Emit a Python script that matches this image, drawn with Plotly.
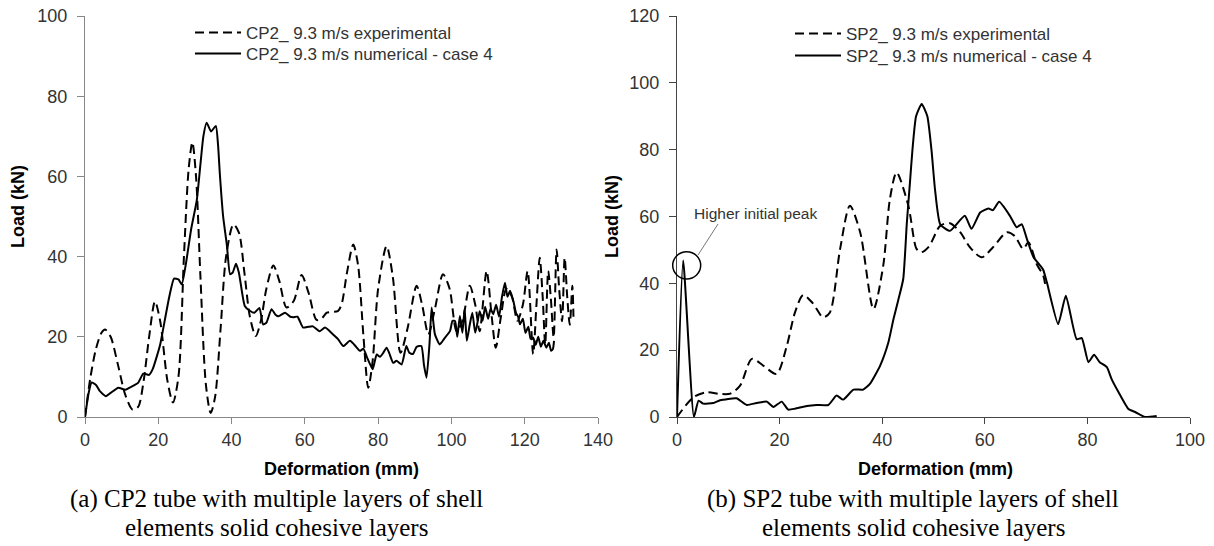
import plotly.graph_objects as go

# ---- (a) CP2 data ----
cp2_exp_x = [0, 1.5, 3, 4.5, 5.5, 7, 9, 11, 13, 14.5, 16, 17.5, 19.1, 20.5, 22.5, 24, 25.5, 27, 28.3, 29.3,
             30.3, 31.5, 33, 34.3, 35.5, 37, 38.5, 40.5, 42, 43.5, 45, 46.6, 48, 49.5, 51.4, 53, 55, 57, 59.1,
             61, 63.2, 64.5, 66, 67.5, 69, 70, 71.5, 73.2, 74.5, 76, 77.3, 78.5, 80, 82.3, 84, 86.1, 88, 90.5,
             92, 93.7, 95.5, 97.7, 99.5, 101.4, 103, 105, 106.5, 107.7, 109.6, 111, 112.1, 113.5, 115, 116.5,
             118, 119.5, 120.8, 122.3, 123.2, 124.1, 124.9, 125.6, 126.4, 127.1, 127.9, 128.7, 129.4, 130.2,
             130.9, 131.6, 132.3, 133, 133.3]
cp2_exp_y = [0, 10, 17, 21, 21.8, 20, 13, 5.5, 1.8, 2.5, 9, 20, 28.8, 24, 9, 3.6, 10, 40, 62, 68.5,
             60, 35, 8, 1, 5, 22, 40, 48, 46, 36, 25, 20.2, 24, 32, 37.8, 34, 27.3, 29, 35.4,
             31, 24.2, 24.5, 26, 26.2, 26.4, 28, 36, 43, 38, 20, 7.3, 14, 32, 42.6, 35, 16, 22, 32.7,
             28, 20.6, 27, 35.6, 32, 21.4, 24, 32.7, 28, 21.4, 36.4, 25, 17.3, 25, 32, 30,
             24, 28, 36.4, 15.7, 28, 39.7, 30, 18.1, 36.4, 30, 19.8, 41.8, 32, 23.9,
             39.7, 30, 23, 32.7, 25]

cp2_num_x = [0, 1, 1.8, 3, 4, 5.7, 7, 9.1, 11, 13.2, 14.5, 15.9, 17.5, 18.5, 19.5, 20.5, 21.4, 23, 24.3,
             25.5, 26.4, 27.5, 29, 30.5, 31.5, 32.3, 33.2, 34.4, 35.7, 36.3, 36.8, 37.7, 38.7, 39.6, 40.3,
             41.2, 42, 43.6, 45, 46.2, 47.6, 48.6, 49.5, 50.9, 52, 52.8, 54.6, 56, 56.9, 58, 59.5, 61, 62.2,
             64, 65.5, 67.7, 69, 70.5, 72.3, 74, 75, 76, 77, 78.5, 79.6, 80.5, 81.4, 82.3, 83, 84.1, 85,
             86.4, 87.7, 88.5, 89.5, 90.5, 91.8, 92.5, 93.2, 94, 94.6, 95.5, 96.8, 98, 99.6, 100.3, 101,
             101.6, 102.3, 103, 103.6, 104.2, 105, 105.7, 106.5, 107.2, 107.7, 108.5, 109.2, 110, 110.7,
             111.4, 112.2, 113, 113.8, 114.6, 115.3, 116, 116.9, 117.6, 118.2, 118.7, 119.5, 120.2, 121,
             121.6, 122.3, 123, 123.7, 124.4, 125.1, 125.9, 126.6, 127.2, 127.7, 128]
cp2_num_y = [0, 6, 8.6, 8, 6.5, 5.2, 6, 7.3, 6.8, 7.8, 8.5, 10.8, 10.5, 12, 14.8, 18, 22.3, 30, 34.5,
             34.3, 33.1, 38, 47, 54, 63, 70, 73.4, 71.2, 72.6, 68, 60.6, 50, 43, 35.6, 36,
             38.2, 36, 27.7, 26.5, 26, 27.2, 23.1, 23.5, 26.9, 25.5, 25.1, 26, 25, 24.9, 25, 22.3, 22.5, 22.6,
             21.4, 22.3, 20.6, 19.5, 17.7, 19, 17.5, 16.5, 17, 14.8, 11.9, 15.6, 15, 16, 17.3, 16, 13.5, 14,
             13.1, 17.7, 16, 15.7, 17.5, 17.7, 13, 9.8, 18, 27.3, 20.6, 18.1, 19.5, 21.4, 24, 23.9,
             20, 25.2, 21, 27, 19, 23, 26, 21, 24, 26.4, 24, 27.5, 24.5, 27,
             25.6, 28, 25, 30, 33.5, 30, 31.5, 28.9, 26, 25, 23.1, 24.5, 21, 22.5,
             19.5, 19.8, 18, 20, 17.5, 19, 17.3, 18.5, 16.5, 17, 19]

# ---- (b) SP2 data ----
sp2_exp_x = [0, 3.2, 5.8, 8.4, 10.4, 12.3, 14.6, 16.8, 19.4, 21.4, 23, 24.6, 26.5, 28.5, 29.8, 31.8, 33.7,
             35.7, 38.3, 40.2, 41.5, 42.8, 45.1, 46.7, 47.6, 49.1, 51.3, 53.2, 55.2, 57.1, 59.4, 61.6, 64.3,
             65.8, 67.5, 68.5, 70.1, 71.4, 71.9]
sp2_exp_y = [0, 5.9, 7.4, 6.9, 7, 9.4, 17.4, 15.4, 12.9, 21.3, 31.3, 36.5, 34, 29.8, 31.3, 50.3, 63.2,
             55.3, 32.3, 45.3, 65.2, 73.2, 63.2, 50.3, 49.3, 51, 57.2, 58, 55.3, 50.8, 47.8, 50.8, 55.3,
             54.2, 50.3, 52.3, 45.8, 42.3, 38.3]

sp2_num_x = [0, 1.2, 3.3, 4.2, 5.1, 7.1, 8.4, 11.6, 13.6, 15.5, 17.5, 18.8, 20.4, 21.7, 23, 25.3, 27.2,
             29.5, 31.1, 32.4, 34.4, 36.3, 37.6, 39.6, 41.2, 42.2, 43.1, 44.1, 44.8, 45.4, 45.9, 46.6,
             47.7, 48.8, 49.6, 50.3, 51.3, 53.2, 56.1, 57.4, 59.1, 60.7, 61.6, 62.8, 64.9, 66.2, 67.2,
             68.2, 69.5, 70.8, 71.4, 72.1, 74.3, 75.8, 77.9, 78.9, 80.2, 81.3, 82.4, 83.8, 84.7, 86, 88,
             89.3, 91.2, 93.5]
sp2_num_y = [0, 46.8, 0, 4.9, 4, 4.2, 5, 5.6, 3.6, 4.2, 4.6, 3, 4.6, 2.2, 2.5, 3.3, 3.6,
             3.6, 6.4, 5.2, 8.2, 8.2, 9.9, 15.4, 22.3, 29.3, 34.8, 41.3, 58, 70, 80, 90,
             93.7, 90, 80, 68, 57.7, 55.7, 60.2, 56.3, 61.2, 62.4, 61.9, 64.4, 60.2, 56.8, 57.7,
             53.3, 47.8, 45.3, 44, 40.3, 27.8, 36.3, 23.3, 23.6, 16.4, 18.6, 16.4, 14.9, 11.4, 7.6, 2.4,
             1.5, 0, 0.3]

x_ticks_a = [0, 20, 40, 60, 80, 100, 120, 140]
y_ticks_a = [0, 20, 40, 60, 80, 100]
x_ticks_b = [0, 20, 40, 60, 80, 100]
y_ticks_b = [0, 20, 40, 60, 80, 100, 120]

FONT = "Liberation Sans, Arial, sans-serif"
SERIF = "Liberation Serif, Times New Roman, serif"
DASH = "9px,5px"

# page body has an 8px margin: work in page pixels and convert
OFF = 8
W, H = 1214 - OFF, 546 - OFF
L = 85 - OFF
R = W - (1190 - OFF)
T = 16 - OFF
B = H - (417 - OFF)
PW, PH = W - L - R, H - T - B


def px(xp):
    return (xp - OFF - L) / PW


def py(yp):
    return (H - B - (yp - OFF)) / PH


fig = go.Figure()
fig.add_trace(go.Scatter(x=cp2_exp_x, y=cp2_exp_y, mode="lines", name="CP2_ 9.3 m/s experimental",
                         line=dict(color="black", width=2, dash=DASH, shape="spline", smoothing=0.8),
                         xaxis="x", yaxis="y", legend="legend"))
fig.add_trace(go.Scatter(x=cp2_num_x, y=cp2_num_y, mode="lines", name="CP2_ 9.3 m/s numerical - case 4",
                         line=dict(color="black", width=2, shape="spline", smoothing=0.5),
                         xaxis="x", yaxis="y", legend="legend2"))
fig.add_trace(go.Scatter(x=sp2_exp_x, y=sp2_exp_y, mode="lines", name="SP2_ 9.3 m/s experimental",
                         line=dict(color="black", width=2, dash=DASH, shape="spline", smoothing=0.8),
                         xaxis="x2", yaxis="y2", legend="legend3"))
fig.add_trace(go.Scatter(x=sp2_num_x, y=sp2_num_y, mode="lines", name="SP2_ 9.3 m/s numerical - case 4",
                         line=dict(color="black", width=2, shape="spline", smoothing=0.5),
                         xaxis="x2", yaxis="y2", legend="legend4"))

axis_common = dict(showline=True, showgrid=False, zeroline=False, ticks="outside", automargin=False,
                   ticklabeloverflow="allow",
                   tickfont=dict(family=FONT, size=18, color="#333333"))


def leg(xp, yp):
    return dict(x=px(xp), y=py(yp), xanchor="left", yanchor="middle", bgcolor="rgba(0,0,0,0)",
                font=dict(family=FONT, size=17, color="#333333"), itemwidth=46)


fig.update_layout(
    width=W, height=H,
    margin=dict(l=L, r=R, t=T, b=B, autoexpand=False),
    plot_bgcolor="white", paper_bgcolor="white",
    font=dict(family=FONT, color="#333333"),
    xaxis=dict(domain=[0, px(598)], range=[0, 140], tickvals=x_ticks_a, linecolor="#888888",
               tickcolor="#888888", ticklen=6, anchor="y", **axis_common),
    yaxis=dict(domain=[0, 1], range=[0, 100], tickvals=y_ticks_a, linecolor="#888888",
               tickcolor="#888888", ticklen=7, ticklabelstandoff=6, anchor="x", **axis_common),
    xaxis2=dict(domain=[px(677), 1], range=[0, 100], tickvals=x_ticks_b, linecolor="#444444",
                tickcolor="#444444", ticklen=6, anchor="y2", **axis_common),
    yaxis2=dict(domain=[0, 1], range=[0, 120], tickvals=y_ticks_b, linecolor="#444444",
                tickcolor="#444444", ticklen=7, ticklabelstandoff=6, anchor="x2", **axis_common),
    legend=leg(190, 33),
    legend2=leg(190, 54),
    legend3=leg(790, 34),
    legend4=leg(790, 56),
    showlegend=True,
)

ann = []
ann.append(dict(x=px(341), y=py(469), xref="paper", yref="paper", text="<b>Deformation (mm)</b>",
                showarrow=False, font=dict(family=FONT, size=18, color="black"), xanchor="center", yanchor="middle"))
ann.append(dict(x=px(935), y=py(469), xref="paper", yref="paper", text="<b>Deformation (mm)</b>",
                showarrow=False, font=dict(family=FONT, size=18, color="black"), xanchor="center", yanchor="middle"))
ann.append(dict(x=px(18), y=py(207), xref="paper", yref="paper", text="<b>Load (kN)</b>", textangle=-90,
                showarrow=False, font=dict(family=FONT, size=18, color="black"), xanchor="center", yanchor="middle"))
ann.append(dict(x=px(612), y=py(217), xref="paper", yref="paper", text="<b>Load (kN)</b>", textangle=-90,
                showarrow=False, font=dict(family=FONT, size=18, color="black"), xanchor="center", yanchor="middle"))
for cx, l1, l2 in [(276, "(a) CP2 tube with multiple layers of shell", "elements solid cohesive layers"),
                   (913, "(b) SP2 tube with multiple layers of shell", "elements solid cohesive layers")]:
    ann.append(dict(x=px(cx), y=py(499), xref="paper", yref="paper", text=l1, showarrow=False,
                    font=dict(family=SERIF, size=25, color="black"), xanchor="center", yanchor="middle"))
    ann.append(dict(x=px(cx), y=py(527), xref="paper", yref="paper", text=l2, showarrow=False,
                    font=dict(family=SERIF, size=25, color="black"), xanchor="center", yanchor="middle"))
ann.append(dict(x=px(692), y=py(213), xref="paper", yref="paper", text="Higher initial peak", showarrow=False,
                font=dict(family=FONT, size=15.5, color="#333333"), xanchor="left", yanchor="middle"))
fig.update_layout(annotations=ann)

fig.add_shape(type="circle", xref="paper", yref="paper", x0=px(672.7), x1=px(700.7), y0=py(279), y1=py(251.7),
              line=dict(color="black", width=1.5))
fig.add_shape(type="line", xref="paper", yref="paper", x0=px(718), y0=py(224), x1=px(698), y1=py(255),
              line=dict(color="#777777", width=1))

fig.write_html("out.html")
